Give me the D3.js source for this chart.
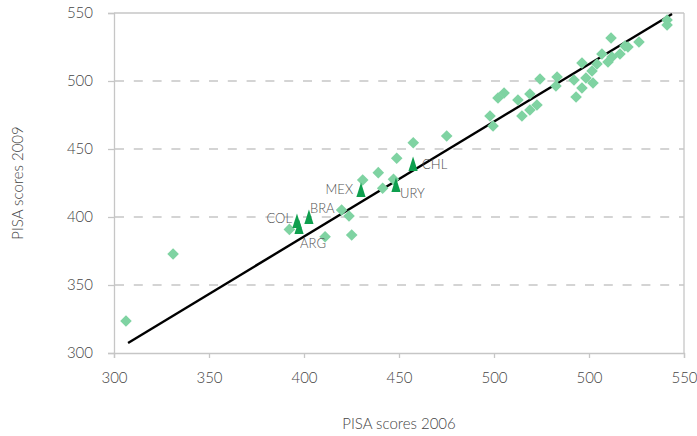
<!DOCTYPE html>
<html><head><meta charset="utf-8">
<script src="https://cdn.jsdelivr.net/npm/d3@7"></script>
<style>
body{margin:0;background:#fff;}
svg{display:block;font-family:Lato,"Open Sans",sans-serif;font-weight:300;}
</style></head><body>
<svg id="c" width="697" height="436"></svg>
<script>
// ---- data ----
const xTickValues = [300, 350, 400, 450, 500, 550, 600];
const xTickLabels = ["300", "350", "400", "450", "500", "500", "550"];
const yTickValues = [300, 350, 400, 450, 500, 550];
const otherX = [306.3, 331.1, 392.3, 411.1, 419.8, 423.7, 425.1, 430.9, 439.1, 441.4, 447.1, 448.8, 457.5, 475.1,
  497.9, 499.5, 502.1, 505.3, 512.6, 514.7, 518.9, 518.9, 522.6, 524.2, 532.6, 533.2, 542.1, 543.2, 546.3, 546.3,
  548.4, 551.6, 552.1, 554.2, 556.8, 560.0, 562.1, 561.6, 566.3, 568.9, 570.5, 576.3, 591.1, 591.1];
const otherY = [323.5, 372.8, 390.9, 385.5, 405.1, 400.7, 386.8, 427.2, 432.6, 421.1, 427.7, 443.2, 454.6, 459.6,
  474.3, 466.9, 487.5, 491.2, 486.0, 474.3, 490.4, 478.7, 482.4, 501.5, 496.3, 502.9, 500.7, 488.2, 513.2, 494.9,
  502.2, 507.4, 498.5, 512.5, 519.9, 514.0, 517.6, 531.6, 519.9, 525.7, 525.0, 528.7, 544.9, 541.2];
const latamCodes = ["CHL", "URY", "MEX", "BRA", "COL", "ARG"];
const latamX = [457.4, 448.4, 430.0, 402.6, 396.3, 397.4];
const latamY = [439.0, 423.5, 419.9, 400.0, 397.1, 392.6];
const trendX = [307.4, 593.7];
const trendY = [307.4, 549.3];
const xTitle = "PISA scores 2006";
const yTitle = "PISA scores 2009";

// ---- layout ----
const svg = d3.select("#c");
const L = 114, R = 684, T = 13, B = 353;
const x = d3.scaleLinear().domain([300, 600]).range([L, R]);
const y = d3.scaleLinear().domain([300, 550]).range([B, T]);
const gridCol = "#c6c6c6", textCol = "#454545";
const FW = 300;

// dashed gridlines
svg.append("g").selectAll("line").data(yTickValues.filter(v => v > 300 && v < 550)).join("line")
  .attr("x1", L + 1).attr("x2", R).attr("y1", d => y(d)).attr("y2", d => y(d))
  .attr("stroke", gridCol).attr("stroke-width", 1.3).attr("stroke-dasharray", "9,9.8");
// top solid line and right border
svg.append("line").attr("x1", L).attr("x2", R).attr("y1", y(550)).attr("y2", y(550))
  .attr("stroke", gridCol).attr("stroke-width", 1.3);
svg.append("line").attr("x1", R).attr("x2", R).attr("y1", T).attr("y2", B)
  .attr("stroke", gridCol).attr("stroke-width", 1.3);

// axes
const yAxis = svg.append("g").attr("transform", `translate(${L},0)`)
  .call(d3.axisLeft(y).tickValues(yTickValues).tickSize(6).tickPadding(15).tickFormat(d3.format("d")));
const xAxis = svg.append("g").attr("transform", `translate(0,${B})`)
  .call(d3.axisBottom(x).tickValues(xTickValues).tickSize(5).tickPadding(14)
    .tickFormat((d, i) => xTickLabels[i]));
[xAxis, yAxis].forEach(g => {
  g.selectAll("path,line").attr("stroke", gridCol).attr("stroke-width", 1.3);
  g.selectAll("text").attr("fill", textCol).attr("font-size", 15)
    .attr("font-family", "Lato, sans-serif").attr("font-weight", FW);
});

// trend line
svg.append("line")
  .attr("x1", x(trendX[0])).attr("y1", y(trendY[0]))
  .attr("x2", x(trendX[1])).attr("y2", y(trendY[1]))
  .attr("stroke", "#000").attr("stroke-width", 2.4);

// diamonds
const dia = "M0,-5.8L5.8,0L0,5.8L-5.8,0Z";
svg.append("g").selectAll("path").data(otherX.map((v, i) => [v, otherY[i]])).join("path")
  .attr("d", dia).attr("transform", d => `translate(${x(d[0])},${y(d[1])})`)
  .attr("fill", "#7fd3a2");

// triangles
const tri = "M0,-7.5L4.6,7L-4.6,7Z";
const latam = latamCodes.map((c, i) => ({c, x: latamX[i], y: latamY[i]}));
svg.append("g").selectAll("path").data(latam).join("path")
  .attr("d", tri).attr("transform", d => `translate(${x(d.x)},${y(d.y)})`)
  .attr("fill", "#0e9f4e");

// labels
const off = {CHL: [9, 5, "start"], URY: [4, 13, "start"], MEX: [-8, 4, "end"], BRA: [1, -4, "start"],
             COL: [-5, 2, "end"], ARG: [1, 21, "start"]};
svg.append("g").selectAll("text").data(latam).join("text")
  .attr("x", d => x(d.x) + off[d.c][0]).attr("y", d => y(d.y) + off[d.c][1])
  .attr("text-anchor", d => off[d.c][2]).attr("font-weight", FW)
  .attr("font-size", 13).attr("fill", "#505050").text(d => d.c);

// titles
svg.append("text").attr("x", (L + R) / 2).attr("y", 429).attr("text-anchor", "middle")
  .attr("font-size", 15).attr("font-weight", FW).attr("fill", textCol).text(xTitle);
svg.append("text").attr("transform", `translate(23,${(T + B) / 2}) rotate(-90)`)
  .attr("text-anchor", "middle").attr("font-size", 15).attr("font-weight", FW).attr("fill", textCol).text(yTitle);
</script>
</body></html>
